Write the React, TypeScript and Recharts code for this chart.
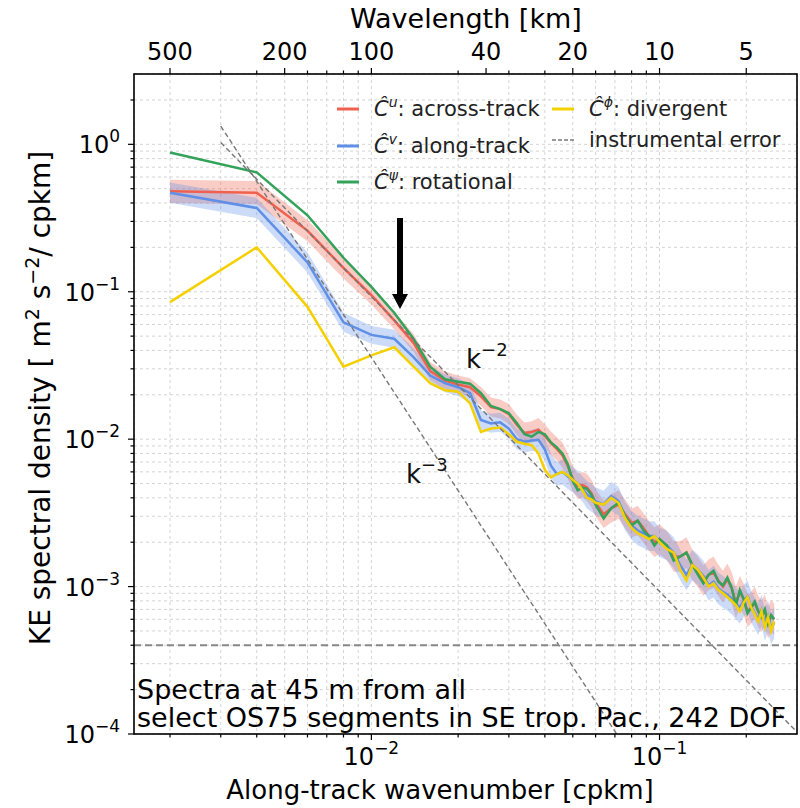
import React from "react";
import { Area, CartesianGrid, ComposedChart, Line, ReferenceLine, XAxis, YAxis } from "recharts";

// along-track wavenumber [cpkm]
const wavenumber = [
  0.002, 0.004, 0.006, 0.008, 0.01, 0.012, 0.014, 0.016, 0.018, 0.02, 0.022, 0.024, 0.026, 0.028, 0.03,
  0.032, 0.034, 0.036, 0.038, 0.04, 0.042, 0.044, 0.046, 0.048, 0.05, 0.052, 0.054, 0.056, 0.058, 0.06,
  0.064, 0.068, 0.072, 0.076, 0.08, 0.084, 0.088, 0.092, 0.096, 0.1, 0.106, 0.112, 0.118, 0.124, 0.13,
  0.136, 0.142, 0.148, 0.154, 0.16, 0.166, 0.172, 0.178, 0.184, 0.19, 0.196, 0.202, 0.208, 0.214, 0.22,
  0.226, 0.232, 0.238, 0.244, 0.25,
];

const acrossTrack = [
  0.48, 0.47, 0.26, 0.145, 0.095, 0.064, 0.045, 0.029, 0.025, 0.0235, 0.0225, 0.0195, 0.0165, 0.016, 0.0148,
  0.0125, 0.011, 0.0112, 0.0116, 0.0105, 0.0094, 0.0086, 0.0078, 0.0066, 0.0054, 0.0048, 0.0049, 0.0047, 0.0043, 0.0037,
  0.0031, 0.0034, 0.0036, 0.0031, 0.0027, 0.0028, 0.0025, 0.0022, 0.002, 0.0021, 0.0019, 0.0016, 0.0016, 0.0017, 0.0014,
  0.00125, 0.0011, 0.0012, 0.00125, 0.0011, 0.001, 0.00112, 0.00098, 0.00078, 0.00092, 0.00082, 0.00068, 0.00072, 0.00078, 0.00068,
  0.00063, 0.00069, 0.00057, 0.00063, 0.0006,
];

const alongTrack = [
  0.47, 0.37, 0.158, 0.062, 0.051, 0.048, 0.036, 0.027, 0.024, 0.0225, 0.0205, 0.0135, 0.0128, 0.013, 0.0118,
  0.01, 0.0096, 0.0098, 0.0099, 0.0085, 0.0066, 0.0058, 0.006, 0.0056, 0.0053, 0.005, 0.0046, 0.0042, 0.004, 0.0038,
  0.0036, 0.0041, 0.0038, 0.003, 0.0026, 0.0024, 0.0023, 0.0022, 0.0022, 0.002, 0.0019, 0.0017, 0.0014, 0.0012, 0.0014,
  0.0013, 0.00118, 0.00102, 0.00108, 0.00097, 0.00092, 0.00088, 0.00083, 0.00077, 0.00072, 0.0008, 0.00086, 0.00073, 0.00066, 0.0006,
  0.00069, 0.00055, 0.00063, 0.00052, 0.00057,
];

const rotational = [
  0.88, 0.645, 0.33, 0.17, 0.108, 0.072, 0.048, 0.031, 0.0255, 0.0245, 0.0238, 0.0205, 0.0168, 0.016, 0.015,
  0.0128, 0.0108, 0.0104, 0.0112, 0.0108, 0.0095, 0.0088, 0.008, 0.0068, 0.0052, 0.0045, 0.0047, 0.0046, 0.0042, 0.0036,
  0.0029, 0.0034, 0.0037, 0.003, 0.0026, 0.0028, 0.0024, 0.0022, 0.0019, 0.0021, 0.0019, 0.0015, 0.0016, 0.0017, 0.0014,
  0.0012, 0.00105, 0.0012, 0.00128, 0.00108, 0.00102, 0.00115, 0.00098, 0.00074, 0.00095, 0.00082, 0.00066, 0.00072, 0.00079, 0.00068,
  0.00062, 0.0007, 0.00056, 0.00064, 0.0006,
];

const divergent = [
  0.085, 0.2, 0.079, 0.031, 0.037, 0.042, 0.031, 0.024, 0.0215, 0.021, 0.0175, 0.0112, 0.0118, 0.012, 0.0108,
  0.0096, 0.0093, 0.0091, 0.008, 0.0062, 0.0055, 0.0058, 0.006, 0.0057, 0.0053, 0.005, 0.0045, 0.004, 0.0039, 0.0037,
  0.0036, 0.004, 0.0037, 0.0029, 0.0025, 0.0023, 0.0022, 0.0021, 0.0022, 0.002, 0.0018, 0.0017, 0.0013, 0.0011, 0.0014,
  0.0013, 0.00115, 0.001, 0.00105, 0.00095, 0.0009, 0.00085, 0.0008, 0.00075, 0.00068, 0.00078, 0.00085, 0.00072, 0.00065, 0.00058,
  0.00068, 0.00053, 0.00062, 0.0005, 0.00058,
];

// relative half-width of the shaded confidence bands
const acrossSpread = [
  0.2, 0.2, 0.18, 0.18, 0.16, 0.15, 0.15, 0.15, 0.15, 0.15, 0.15, 0.16, 0.16, 0.16, 0.17,
  0.17, 0.18, 0.18, 0.2, 0.2, 0.2, 0.2, 0.22, 0.22, 0.22, 0.22, 0.22, 0.24, 0.24, 0.24,
  0.24, 0.25, 0.25, 0.25, 0.25, 0.26, 0.26, 0.26, 0.26, 0.26, 0.26, 0.27, 0.27, 0.27, 0.27,
  0.27, 0.27, 0.27, 0.28, 0.28, 0.28, 0.28, 0.28, 0.28, 0.28, 0.28, 0.28, 0.28, 0.28, 0.28,
  0.28, 0.28, 0.28, 0.28, 0.28,
];

const alongSpread = [
  0.17, 0.17, 0.17, 0.16, 0.15, 0.15, 0.15, 0.15, 0.15, 0.15, 0.15, 0.16, 0.16, 0.16, 0.17,
  0.17, 0.18, 0.18, 0.2, 0.2, 0.2, 0.2, 0.22, 0.22, 0.22, 0.22, 0.22, 0.24, 0.24, 0.24,
  0.24, 0.25, 0.25, 0.25, 0.25, 0.26, 0.26, 0.26, 0.26, 0.26, 0.26, 0.27, 0.27, 0.27, 0.27,
  0.27, 0.27, 0.27, 0.28, 0.28, 0.28, 0.28, 0.28, 0.28, 0.28, 0.28, 0.28, 0.28, 0.28, 0.28,
  0.28, 0.28, 0.28, 0.28, 0.28,
];

// reference slopes (end points)
const slopeK2 = [
  { k: 0.003, v: 1.03 },
  { k: 0.3, v: 1.03e-4 },
];
const slopeK3 = [
  { k: 0.003, v: 1.33 },
  { k: 0.071, v: 1e-4 },
];
const instrumentalError = 4e-4;

const xTicks = [
  0.002, 0.003, 0.004, 0.005, 0.006, 0.007, 0.008, 0.009, 0.01, 0.02, 0.03, 0.04, 0.05, 0.06, 0.07, 0.08, 0.09, 0.1,
  0.2,
];
const topTicks = [0.002, 0.005, 0.01, 0.025, 0.05, 0.1, 0.2];
const topLabels = ["500", "200", "100", "40", "20", "10", "5"];
const topMinor = [0.003, 0.004, 0.006, 0.007, 0.008, 0.009, 0.02, 0.03, 0.04, 0.06, 0.07, 0.08, 0.09];
const yTicks = [
  1e-4, 2e-4, 3e-4, 4e-4, 5e-4, 6e-4, 7e-4, 8e-4, 9e-4, 1e-3, 2e-3, 3e-3, 4e-3, 5e-3, 6e-3, 7e-3, 8e-3, 9e-3, 1e-2,
  2e-2, 3e-2, 4e-2, 5e-2, 6e-2, 7e-2, 8e-2, 9e-2, 1e-1, 2e-1, 3e-1, 4e-1, 5e-1, 6e-1, 7e-1, 8e-1, 9e-1, 1, 2,
];

const FONT = "DejaVu Sans";
const RED = "#f0604f";
const BLUE = "#5f8fe6";
const GREEN = "#33a25a";
const YELLOW = "#f5d000";

const rows = wavenumber.map((k, i) => ({
  k,
  across: acrossTrack[i],
  along: alongTrack[i],
  rot: rotational[i],
  div: divergent[i],
  acrossBand: [acrossTrack[i] / (1 + acrossSpread[i]), acrossTrack[i] * (1 + acrossSpread[i])],
  alongBand: [alongTrack[i] / (1 + alongSpread[i]), alongTrack[i] * (1 + alongSpread[i])],
}));

const isMajor = (v: number) => Math.abs(Math.log10(v) - Math.round(Math.log10(v))) < 1e-6;
const expText = (v: number) => {
  const e = Math.round(Math.log10(v));
  return e < 0 ? "\u2212" + Math.abs(e) : String(e);
};

function BottomTick(props: any) {
  const { x, y, payload } = props;
  const major = isMajor(payload.value);
  return (
    <g>
      <line x1={x} x2={x} y1={y} y2={y + (major ? 6 : 3.5)} stroke="#000" strokeWidth={1.2} />
      {major && (
        <text x={x} y={y + 31} textAnchor="middle" fontSize={24} fill="#000" fontFamily={FONT}>
          10
          <tspan dy={-11} fontSize={17}>
            {expText(payload.value)}
          </tspan>
        </text>
      )}
    </g>
  );
}

function LeftTick(props: any) {
  const { x, y, payload } = props;
  const major = isMajor(payload.value);
  return (
    <g>
      <line x1={x - (major ? 6 : 3.5)} x2={x} y1={y} y2={y} stroke="#000" strokeWidth={1.2} />
      {major && (
        <text x={x - 14} y={y + 9} textAnchor="end" fontSize={24} fill="#000" fontFamily={FONT}>
          10
          <tspan dy={-11} fontSize={17}>
            {expText(payload.value)}
          </tspan>
        </text>
      )}
    </g>
  );
}

function TopTick(props: any) {
  const { x, y, payload } = props;
  const idx = topTicks.indexOf(payload.value);
  return (
    <g>
      <line x1={x} x2={x} y1={y} y2={y - (idx >= 0 ? 6 : 3.5)} stroke="#000" strokeWidth={1.2} />
      {idx >= 0 && (
        <text x={x} y={y - 14} textAnchor="middle" fontSize={24} fill="#000" fontFamily={FONT}>
          {topLabels[idx]}
        </text>
      )}
    </g>
  );
}

function LegendLabel({ x, y, sup, text }: { x: number; y: number; sup: string; text: string }) {
  return (
    <text x={x} y={y} fontSize={21} fill="#222" fontFamily={FONT}>
      <tspan fontStyle="italic">Ĉ</tspan>
      <tspan dy={-9} fontSize={14} fontStyle="italic">
        {sup}
      </tspan>
      <tspan dy={9}>{text}</tspan>
    </text>
  );
}

export default function App() {
  return (
    <div style={{ position: "absolute", left: 0, top: 0, width: 800, height: 808, background: "#fff" }}>
      <ComposedChart width={800} height={808} data={rows} margin={{ top: 34, right: 3, bottom: 34, left: 0 }}>
        <CartesianGrid stroke="#d4d4d4" strokeDasharray="3 3" strokeWidth={1} />
        <XAxis
          dataKey="k"
          type="number"
          scale="log"
          domain={[0.0015, 0.3]}
          allowDataOverflow
          ticks={xTicks}
          interval={0}
          height={40}
          tickSize={0}
          tickMargin={0}
          axisLine={false}
          tick={<BottomTick />}
        />
        <XAxis
          xAxisId="top"
          orientation="top"
          dataKey="k"
          type="number"
          scale="log"
          domain={[0.0015, 0.3]}
          allowDataOverflow
          ticks={[...topTicks, ...topMinor]}
          interval={0}
          height={40}
          tickSize={0}
          tickMargin={0}
          axisLine={false}
          tick={<TopTick />}
        />
        <YAxis
          type="number"
          scale="log"
          domain={[1e-4, 3]}
          allowDataOverflow
          ticks={yTicks}
          interval={0}
          width={134}
          tickSize={0}
          tickMargin={0}
          axisLine={false}
          tick={<LeftTick />}
        />
        <Area dataKey="acrossBand" stroke="none" fill={RED} fillOpacity={0.32} isAnimationActive={false} dot={false} activeDot={false} />
        <Area dataKey="alongBand" stroke="none" fill={BLUE} fillOpacity={0.32} isAnimationActive={false} dot={false} activeDot={false} />
        <Line dataKey="across" stroke={RED} strokeWidth={2.5} dot={false} isAnimationActive={false} />
        <Line dataKey="along" stroke={BLUE} strokeWidth={2.5} dot={false} isAnimationActive={false} />
        <Line dataKey="rot" stroke={GREEN} strokeWidth={2.5} dot={false} isAnimationActive={false} />
        <Line dataKey="div" stroke={YELLOW} strokeWidth={2.5} dot={false} isAnimationActive={false} />
        <Line data={slopeK2} dataKey="v" stroke="#777" strokeWidth={1.4} strokeDasharray="5 3" dot={false} isAnimationActive={false} />
        <Line data={slopeK3} dataKey="v" stroke="#777" strokeWidth={1.4} strokeDasharray="5 3" dot={false} isAnimationActive={false} />
        <ReferenceLine y={instrumentalError} stroke="#888" strokeWidth={2} strokeDasharray="7 4" />
      </ComposedChart>

      <svg
        width={800}
        height={808}
        style={{ position: "absolute", left: 0, top: 0, pointerEvents: "none" }}
        fontFamily={FONT}
      >
        <rect x={134} y={74} width={663} height={660} fill="none" stroke="#000" strokeWidth={1.6} />

        <text x={466} y={28} textAnchor="middle" fontSize={27} fill="#000">
          Wavelength [km]
        </text>
        <text x={440} y={799} textAnchor="middle" fontSize={26} fill="#000">
          Along-track wavenumber [cpkm]
        </text>
        <text transform="translate(50,398) rotate(-90)" textAnchor="middle" fontSize={28} fill="#000">
          KE spectral density [ m
          <tspan dy={-11} fontSize={19}>2</tspan>
          <tspan dy={11}> s</tspan>
          <tspan dy={-11} fontSize={19}>{"\u22122"}</tspan>
          <tspan dy={11}>/ cpkm]</tspan>
        </text>

        {/* legend */}
        <line x1={337} x2={359} y1={109} y2={109} stroke={RED} strokeWidth={3} />
        <LegendLabel x={374} y={116} sup="u" text=": across-track" />
        <line x1={337} x2={359} y1={146} y2={146} stroke={BLUE} strokeWidth={3} />
        <LegendLabel x={374} y={153} sup="v" text=": along-track" />
        <line x1={337} x2={359} y1={182} y2={182} stroke={GREEN} strokeWidth={3} />
        <LegendLabel x={374} y={189} sup="ψ" text=": rotational" />
        <line x1={552} x2={574} y1={109} y2={109} stroke={YELLOW} strokeWidth={3} />
        <LegendLabel x={589} y={116} sup="ϕ" text=": divergent" />
        <line x1={552} x2={574} y1={140} y2={140} stroke="#777" strokeWidth={1.4} strokeDasharray="4 2" />
        <text x={589} y={147} fontSize={21} fill="#222">
          instrumental error
        </text>

        {/* slope labels */}
        <text x={466} y={368} fontSize={26} fill="#111">
          k<tspan dy={-12} fontSize={18}>{"\u22122"}</tspan>
        </text>
        <text x={406} y={483} fontSize={26} fill="#111">
          k<tspan dy={-12} fontSize={18}>{"\u22123"}</tspan>
        </text>

        {/* arrow */}
        <line x1={400} x2={400} y1={218} y2={296} stroke="#000" strokeWidth={6} />
        <polygon points="392,294 408,294 400,309" fill="#000" />

        {/* annotation */}
        <text x={137} y={699} fontSize={27} fill="#000">
          Spectra at 45 m from all
        </text>
        <text x={137} y={727} fontSize={27} fill="#000">
          select OS75 segments in SE trop. Pac., 242 DOF
        </text>
      </svg>
    </div>
  );
}
